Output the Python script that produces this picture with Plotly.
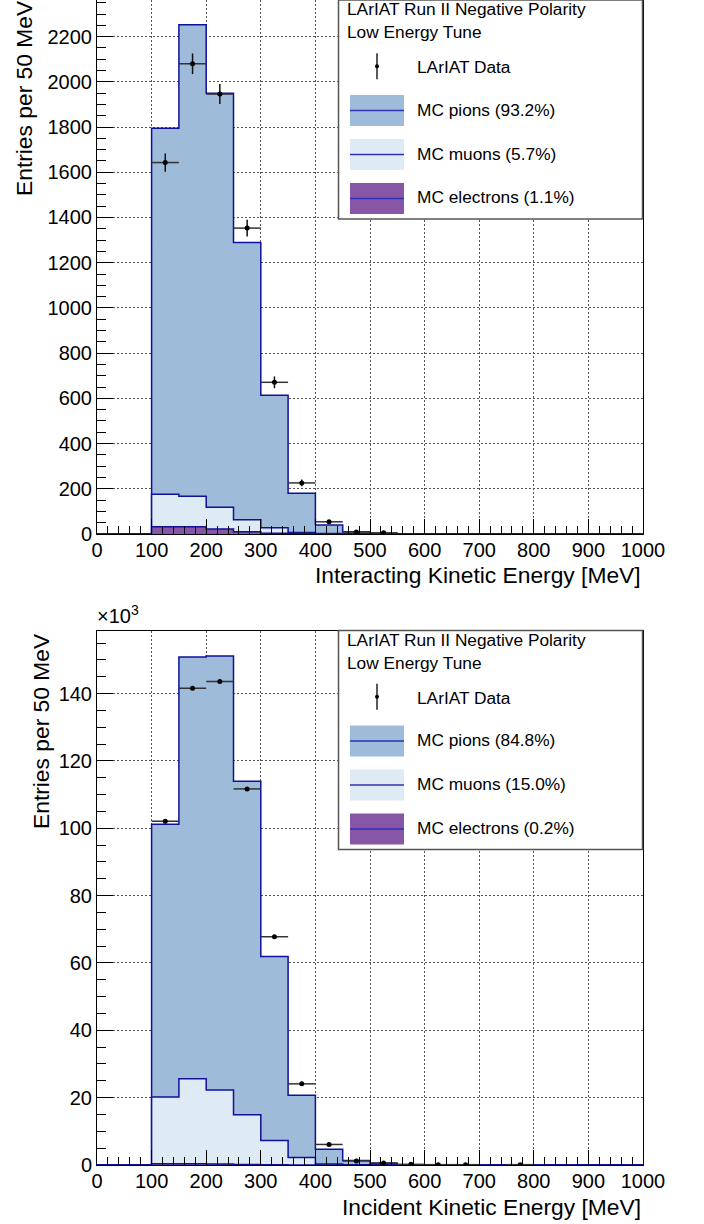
import numpy as np
import plotly.graph_objects as go

W, H = 704, 1224

# ---------------- data ----------------
bin_edges = list(range(0, 1001, 50))          # MeV, 20 bins of 50 MeV
bin_centers = [e + 25 for e in bin_edges[:-1]]

# Top panel: Interacting kinetic energy (entries per 50 MeV)
int_total = [0, 0, 1795, 2252, 1950, 1289, 614, 180, 40, 10, 3, 0, 0, 0, 0, 0, 0, 0, 0, 0]
int_mu_e = [0, 0, 176, 167, 118, 63, 28, 7, 2, 1, 0, 0, 0, 0, 0, 0, 0, 0, 0, 0]
int_e = [0, 0, 32, 32, 22, 10, 3, 1, 0, 0, 0, 0, 0, 0, 0, 0, 0, 0, 0, 0]
int_data = [0, 0, 1643, 2080, 1946, 1353, 671, 226, 54, 9, 5, 0, 0, 0, 0, 0, 0, 0, 0, 0]

# Bottom panel: Incident kinetic energy (x10^3 entries per 50 MeV)
inc_total = [0, 0, 101.2, 150.9, 151.2, 114.0, 61.9, 20.7, 4.7, 1.3, 0.5, 0.1, 0, 0, 0, 0, 0, 0, 0, 0]
inc_mu_e = [0, 0, 20.2, 25.6, 22.3, 14.9, 7.3, 2.2, 0.3, 0.1, 0, 0, 0, 0, 0, 0, 0, 0, 0, 0]
inc_e = [0, 0, 0.35, 0.35, 0.3, 0.15, 0.05, 0, 0, 0, 0, 0, 0, 0, 0, 0, 0, 0, 0, 0]
inc_data = [0, 0, 102.1, 141.6, 143.6, 111.7, 67.8, 24.1, 6.1, 1.2, 0.6, 0.2, 0.1, 0.1, 0, 0.1, 0, 0, 0, 0]

legend_top = ["MC pions (93.2%)", "MC muons (5.7%)", "MC electrons (1.1%)"]
legend_bot = ["MC pions (84.8%)", "MC muons (15.0%)", "MC electrons (0.2%)"]
legend_title = ["LArIAT Run II Negative Polarity", "Low Energy Tune"]
data_label = "LArIAT Data"
xtitle_top = "Interacting Kinetic Energy [MeV]"
xtitle_bot = "Incident Kinetic Energy [MeV]"
ytitle = "Entries per 50 MeV"

# ---------------- style ----------------
C_PI = "#9ebbd9"
C_MU = "#deebf5"
C_E = "#8856a7"
C_LINE = "#10109a"
FONT = "Liberation Sans, Arial, sans-serif"

# pixel layout
X0, X1 = 97, 643
TOP_Y0, TOP_Y1 = 0, 534
BOT_Y0, BOT_Y1 = 631, 1165


def px(x):
    return x / W


def py(y):
    return 1 - y / H


fig = go.Figure()


def add_panel(total, mu_e, e, data, xa, ya, scale):
    xs = bin_edges
    for vals, col in ((total, C_PI), (mu_e, C_MU), (e, C_E)):
        fig.add_trace(go.Scatter(
            x=xs, y=list(vals) + [vals[-1]], mode="lines", line_shape="hv",
            line=dict(color=C_LINE, width=1.5), fill="tozeroy", fillcolor=col,
            xaxis=xa, yaxis=ya, showlegend=False, hoverinfo="skip"))
    dx, dy, de = [], [], []
    for c, v in zip(bin_centers, data):
        if v > 0:
            dx.append(c)
            dy.append(v)
            de.append(np.sqrt(v * scale) / scale)
    fig.add_trace(go.Scatter(
        x=dx, y=dy, mode="markers", marker=dict(color="black", size=5),
        error_y=dict(type="data", array=de, color="#111", thickness=1.5, width=0),
        error_x=dict(type="data", array=[25] * len(dx), color="#333", thickness=1.5, width=0),
        xaxis=xa, yaxis=ya, showlegend=False))


add_panel(int_total, int_mu_e, int_e, int_data, "x", "y", 1)
add_panel(inc_total, inc_mu_e, inc_e, inc_data, "x2", "y2", 1000)

axis_common = dict(
    showline=True, linecolor="black", linewidth=1, mirror=True,
    ticks="inside", tickcolor="black", tickwidth=1,
    tickfont=dict(family=FONT, size=20, color="black"),
    showgrid=True, gridcolor="#555", gridwidth=1, griddash="2px,2px",
    zeroline=False, automargin=False,
)

xa = dict(axis_common, range=[0, 1000], dtick=100, tick0=0, ticklen=15,
          ticklabelstandoff=-2,
          minor=dict(dtick=20, ticklen=8, ticks="inside", tickcolor="black", showgrid=False),
          domain=[px(X0), px(X1)])
fig.update_layout(
    xaxis=dict(xa, anchor="y"),
    xaxis2=dict(xa, anchor="y2"),
    yaxis=dict(axis_common, range=[0, 2362], dtick=200, tick0=0, ticklen=16,
               minor=dict(dtick=50, ticklen=9, ticks="inside", tickcolor="black", showgrid=False),
               domain=[py(TOP_Y1), py(TOP_Y0)], anchor="x"),
    yaxis2=dict(axis_common, range=[0, 158.6], dtick=20, tick0=0, ticklen=16,
                minor=dict(dtick=5, ticklen=9, ticks="inside", tickcolor="black", showgrid=False),
                domain=[py(BOT_Y1), py(BOT_Y0)], anchor="x2"),
)

annotations = []
shapes = []

# axis titles
annotations.append(dict(text=xtitle_top, x=px(X1), y=py(TOP_Y1 + 26), xref="paper", yref="paper",
                        xanchor="right", yanchor="top", showarrow=False,
                        font=dict(family=FONT, size=22.8, color="black")))
annotations.append(dict(text=xtitle_bot, x=px(X1), y=py(BOT_Y1 + 27), xref="paper", yref="paper",
                        xanchor="right", yanchor="top", showarrow=False,
                        font=dict(family=FONT, size=22.8, color="black")))
for ytop, xc in ((TOP_Y0 - 2, 24), (BOT_Y0, 41)):
    annotations.append(dict(text=ytitle, x=px(xc), y=py(ytop), xref="paper", yref="paper",
                            xanchor="center", yanchor="top", textangle=-90, showarrow=False,
                            font=dict(family=FONT, size=22.8, color="black")))
annotations.append(dict(text="×10<sup>3</sup>", x=px(95), y=py(BOT_Y0 - 2), xref="paper", yref="paper",
                        xanchor="left", yanchor="bottom", showarrow=False,
                        font=dict(family=FONT, size=20, color="black")))


def add_legend(top, labels):
    # box
    shapes.append(dict(type="rect", xref="paper", yref="paper",
                       x0=px(338.5), x1=px(642.5), y0=py(top + 219), y1=py(top),
                       line=dict(color="#555", width=1.5), fillcolor="white", layer="above"))
    f = dict(family=FONT, size=17.3, color="black")
    for i, t in enumerate(legend_title):
        annotations.append(dict(text=t, x=px(345), y=py(top + 9 + 23.3 * i), xref="paper", yref="paper",
                                xanchor="left", yanchor="middle", showarrow=False, font=f))
    # data entry
    shapes.append(dict(type="line", xref="paper", yref="paper", x0=px(377), x1=px(377),
                       y0=py(top + 53.3), y1=py(top + 79.3), line=dict(color="#222", width=1.5), layer="above"))
    shapes.append(dict(type="circle", xref="paper", yref="paper", x0=px(375), x1=px(379),
                       y0=py(top + 64.3), y1=py(top + 68.3), fillcolor="black", line=dict(width=0), layer="above"))
    annotations.append(dict(text=data_label, x=px(414.5), y=py(top + 67), xref="paper", yref="paper",
                            xanchor="left", yanchor="middle", showarrow=False, font=f))
    for i, (lab, col) in enumerate(zip(labels, (C_PI, C_MU, C_E))):
        cy = top + 110.5 + 44 * i
        shapes.append(dict(type="rect", xref="paper", yref="paper", x0=px(350), x1=px(404),
                           y0=py(cy + 15.5), y1=py(cy - 15.5), fillcolor=col, line=dict(width=0), layer="above"))
        shapes.append(dict(type="line", xref="paper", yref="paper", x0=px(350), x1=px(404),
                           y0=py(cy), y1=py(cy), line=dict(color="#3030b8", width=1.5), layer="above"))
        annotations.append(dict(text=lab, x=px(414.5), y=py(cy - 1), xref="paper", yref="paper",
                                xanchor="left", yanchor="middle", showarrow=False, font=f))


add_legend(0, legend_top)
add_legend(630.5, legend_bot)

fig.update_layout(
    width=W, height=H, autosize=False, margin=dict(l=0, r=0, t=0, b=0, pad=0),
    paper_bgcolor="white", plot_bgcolor="white",
    annotations=annotations, shapes=shapes, showlegend=False,
    font=dict(family=FONT, color="black"),
)

fig.write_html("out.html")
